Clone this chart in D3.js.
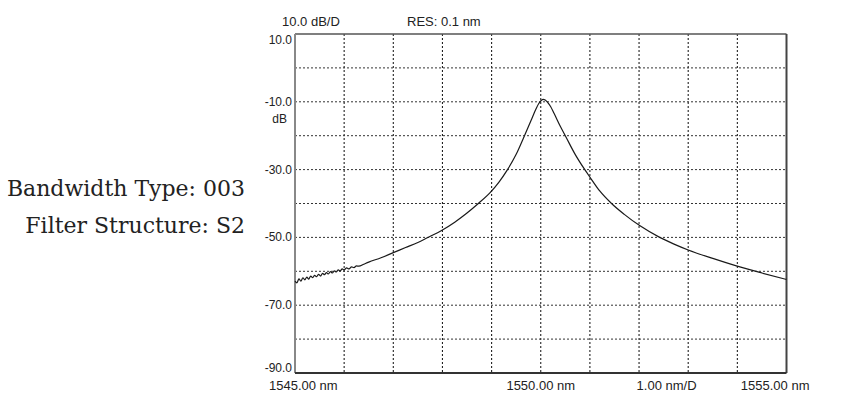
<!DOCTYPE html>
<html>
<head>
<meta charset="utf-8">
<script src="https://cdn.jsdelivr.net/npm/d3@7"></script>
<style>
  body { margin: 0; background: #fff; }
  svg { display: block; }
</style>
</head>
<body>
<div id="chart"></div>
<script>
// spectrum trace, wavelength in nm
var wavelength = [
  1545.00, 1545.04, 1545.08, 1545.12, 1545.16, 1545.20, 1545.24, 1545.28, 1545.32, 1545.36,
  1545.40, 1545.44, 1545.48, 1545.52, 1545.56, 1545.60, 1545.64, 1545.68, 1545.72, 1545.76,
  1545.80, 1545.84, 1545.88, 1545.92, 1545.96, 1546.00, 1546.05, 1546.10, 1546.15, 1546.20,
  1546.25, 1546.30, 1546.40, 1546.50, 1546.75, 1547.00, 1547.25, 1547.50, 1547.68, 1548.00,
  1548.25, 1548.50, 1548.73, 1548.97, 1549.15, 1549.32, 1549.50, 1549.66, 1549.80, 1549.90,
  1549.96, 1550.01, 1550.05, 1550.09, 1550.14, 1550.20, 1550.27, 1550.40, 1550.51, 1550.70,
  1550.90, 1551.00, 1551.20, 1551.44, 1551.70, 1552.02, 1552.42, 1552.70, 1553.00, 1553.50,
  1553.98, 1554.50, 1555.00
]
var power = [
  -62.9, -63.4, -62.2, -62.9, -61.9, -62.5, -61.7, -62.3, -61.4, -61.9,
  -61.2, -61.6, -60.9, -61.4, -60.6, -61.0, -60.4, -60.8, -60.1, -60.5,
  -59.9, -60.2, -59.6, -59.9, -59.3, -59.6, -59.0, -59.3, -58.7, -58.9,
  -58.4, -58.5, -57.9, -57.3, -56.0, -54.5, -53.0, -51.5, -50.2, -47.8,
  -45.5, -42.8, -40.0, -36.8, -33.7, -30.1, -25.5, -20.3, -15.6, -12.2,
  -10.5, -9.6, -9.3, -9.5, -10.2, -11.4, -13.4, -17.3, -20.3, -25.5,
  -30.1, -32.2, -36.3, -40.0, -43.2, -46.6, -50.0, -51.9, -53.7, -56.2,
  -58.4, -60.5, -62.4
]

var yTicks = [10, -10, -30, -50, -70, -90]
var xLabels = ["1545.00 nm", "1550.00 nm", "1.00 nm/D", "1555.00 nm"]
var topLabels = ["10.0 dB/D", "RES: 0.1 nm"]
var infoLines = ["Bandwidth Type: 003", "Filter Structure: S2"]

var W = 855, H = 399
var margin = { top: 34, right: 68.5, bottom: 26, left: 295 }
var width = W - margin.left - margin.right
var height = H - margin.top - margin.bottom

var svg = d3.select("#chart").append("svg")
            .attr("width", W)
            .attr("height", H)

var g = svg.append("g")
           .attr("transform", "translate(" + margin.left + "," + margin.top + ")")

var x = d3.scaleLinear().domain([1545, 1555]).range([0, width])
var y = d3.scaleLinear().domain([-90, 10]).range([height, 0])

// dotted grid, one division per nm and per 10 dB
g.selectAll(".vgrid")
 .data(d3.range(1546, 1555))
 .enter().append("line")
 .attr("x1", d => x(d)).attr("x2", d => x(d))
 .attr("y1", 0).attr("y2", height)
 .attr("stroke", "#222")
 .attr("stroke-width", 1.1)
 .attr("stroke-dasharray", "2,2")

g.selectAll(".hgrid")
 .data(d3.range(0, -90, -10))
 .enter().append("line")
 .attr("x1", 0).attr("x2", width)
 .attr("y1", d => y(d)).attr("y2", d => y(d))
 .attr("stroke", "#333")
 .attr("stroke-width", 1)
 .attr("stroke-dasharray", "2,2")

// frame
g.append("line").attr("x1", 0).attr("x2", width).attr("y1", 0).attr("y2", 0)
 .attr("stroke", "#555").attr("stroke-width", 1.5)
g.append("line").attr("x1", width).attr("x2", width).attr("y1", 0).attr("y2", height)
 .attr("stroke", "#444").attr("stroke-width", 2)
g.append("line").attr("x1", 0).attr("x2", 0).attr("y1", 0).attr("y2", height)
 .attr("stroke", "#888").attr("stroke-width", 2)
g.append("line").attr("x1", 0).attr("x2", width).attr("y1", height).attr("y2", height)
 .attr("stroke", "#333").attr("stroke-width", 2)

// trace
var pts = wavelength.map((w, i) => [w, power[i]])
var line = d3.line()
             .x(d => x(d[0]))
             .y(d => y(d[1]))
             .curve(d3.curveMonotoneX)

g.append("path")
 .datum(pts)
 .attr("d", line)
 .attr("fill", "none")
 .attr("stroke", "#1a1a1a")
 .attr("stroke-width", 1.2)

// y labels
g.selectAll(".ylab")
 .data(yTicks)
 .enter().append("text")
 .text(d => d.toFixed(1))
 .attr("x", -3)
 .attr("y", function (d) {
     if (d === 10) return y(d) + 10
     if (d === -90) return y(d) - 1
     return y(d) + 4
 })
 .attr("text-anchor", "end")
 .attr("font-family", "Liberation Sans, Arial, sans-serif")
 .attr("font-size", 12)
 .attr("fill", "#222")

g.append("text")
 .text("dB")
 .attr("x", -8)
 .attr("y", y(-10) + 21)
 .attr("text-anchor", "end")
 .attr("font-family", "Liberation Sans, Arial, sans-serif")
 .attr("font-size", 12)
 .attr("fill", "#222")

// top labels
svg.selectAll(".toplab")
   .data(topLabels)
   .enter().append("text")
   .text(d => d)
   .attr("x", (d, i) => i === 0 ? 282 : 407)
   .attr("y", 26)
   .attr("font-family", "Liberation Sans, Arial, sans-serif")
   .attr("font-size", 13)
   .attr("fill", "#222")

// bottom labels
var xAnchor = [
    { at: 1545, dx: -26, anchor: "start" },
    { at: 1550, dx: 0, anchor: "middle" },
    { at: 1552.56, dx: 0, anchor: "middle" },
    { at: 1555, dx: 23, anchor: "end" }
]
g.selectAll(".xlab")
 .data(xLabels)
 .enter().append("text")
 .text(d => d)
 .attr("x", (d, i) => x(xAnchor[i].at) + xAnchor[i].dx)
 .attr("y", height + 17)
 .attr("text-anchor", (d, i) => xAnchor[i].anchor)
 .attr("font-family", "Liberation Sans, Arial, sans-serif")
 .attr("font-size", 13)
 .attr("fill", "#222")

// side caption
svg.selectAll(".info")
   .data(infoLines)
   .enter().append("text")
   .text(d => d)
   .attr("x", 245)
   .attr("y", (d, i) => 196 + i * 37)
   .attr("text-anchor", "end")
   .attr("font-family", "DejaVu Serif, serif")
   .attr("font-size", 22)
   .attr("fill", "#222")
</script>
</body>
</html>
